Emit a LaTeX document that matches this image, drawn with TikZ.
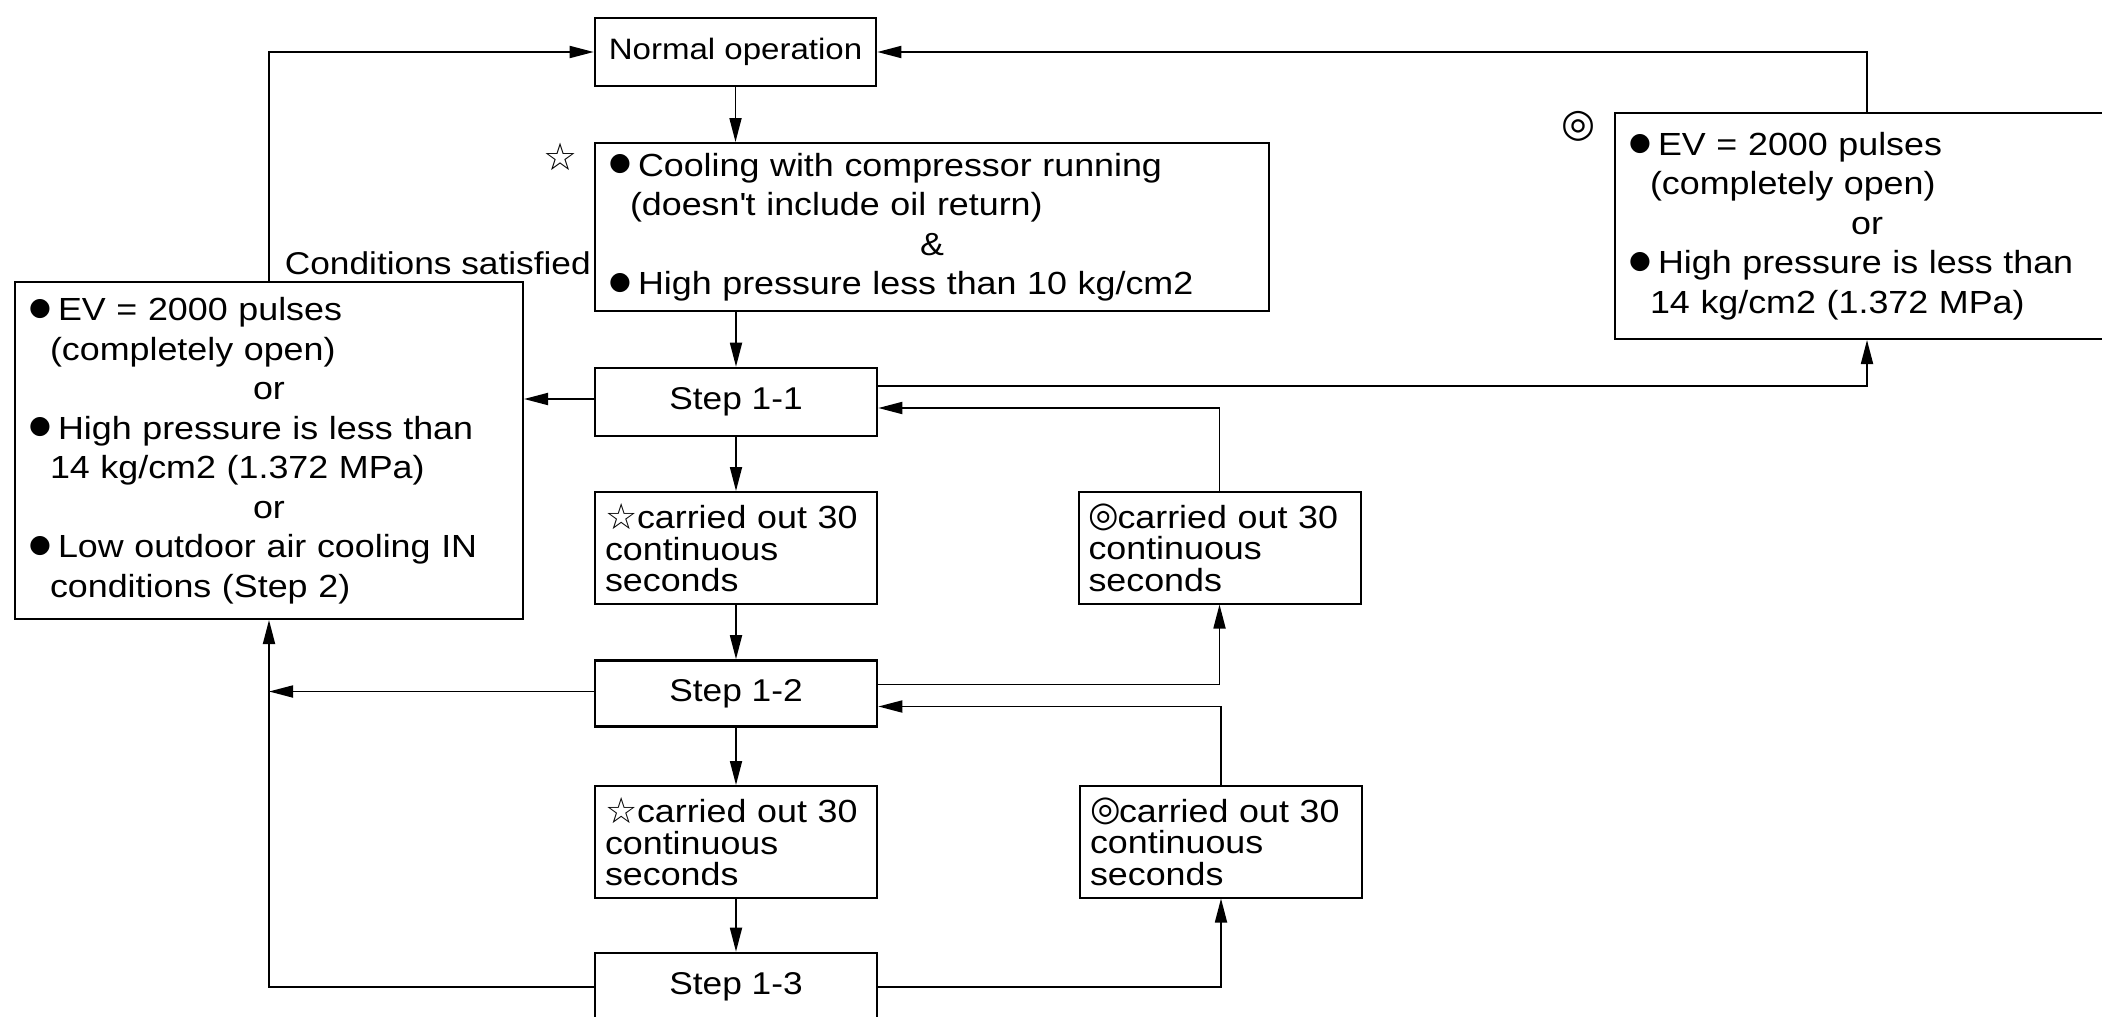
\documentclass[tikz,border=0pt]{standalone}
\usepackage{fontspec}
\setmainfont{Liberation Sans}[FakeStretch=1.12]
\newfontfamily\symfont{DejaVu Sans}
\usetikzlibrary{arrows.meta,calc}
\setlength{\lineskiplimit}{-100pt}
\newcommand\symat[3]{\raisebox{\dimexpr#2-(\height-\depth)/2\relax}{\symfont\fontsize{#1}{#1}\selectfont #3}}
\newcommand\bul{\makebox[29pt][l]{\symat{25pt}{11.5pt}{●}}}
\newcommand\ind{\hspace*{21pt}}
\newcommand\ctrline[1]{\makebox[\linewidth]{#1}}
\newcommand\wstar{\makebox[32pt][l]{\symat{36pt}{12pt}{☆}}}
\newcommand\dcirc{\makebox[29pt][l]{\symat{35pt}{11pt}{◎}}}
\tikzset{
  blk/.style={draw, line width=2.6pt, inner xsep=6pt, inner ysep=3pt,
    font=\fontsize{31.5}{39.5}\selectfont},
  txtbox/.style={draw, line width=2pt, inner xsep=14pt, inner ysep=3pt,
    align=left, font=\fontsize{32}{39.5}\selectfont},
  secbox/.style={draw, line width=2pt, inner xsep=10pt, inner ysep=3pt,
    align=left, text width=262pt, minimum height=112pt,
    font=\fontsize{32}{31.5}\selectfont},
  conn/.style={line width=1.8pt, -{Triangle[length=24pt,width=12pt]}},
}
\begin{document}
\begin{tikzpicture}[x=1pt,y=-1pt]
\useasboundingbox (0,0) rectangle (2102,1017);
\fill[white] (0,0) rectangle (2102,1017);

% main column
\node[blk, minimum width=281pt, minimum height=68pt, font=\fontsize{29.5}{39.5}\selectfont] (normal) at (735.5,52) {Normal operation};
\node[txtbox, text width=646pt, minimum height=168pt] (cool) at (932,227)
  {\bul Cooling with compressor running\\
   \ind(doesn\textquotesingle t include oil return)\\
   \ctrline{\&}\\
   \bul High pressure less than 10 kg/cm2};
\node[blk, minimum width=282pt, minimum height=68pt] (step11) at (736,402) {Step 1-1};
\node[secbox] (star1) at (736,548) {\wstar carried out 30\\continuous\\seconds};
\node[blk, minimum width=282pt, minimum height=66pt] (step12) at (736,693.5) {Step 1-2};
\node[secbox] (star2) at (736,842) {\wstar carried out 30\\continuous\\seconds};
\node[blk, minimum width=282pt, minimum height=68pt] (step13) at (736,987) {Step 1-3};

% right column of 30-second boxes
\node[secbox] (circ1) at (1219.5,547.5) {\dcirc carried out 30\\continuous\\seconds};
\node[secbox] (circ2) at (1221,841.5) {\dcirc carried out 30\\continuous\\seconds};

% left condition box
\node[txtbox, text width=480pt, minimum height=337pt] (leftbox) at (269,450.5)
  {\bul EV = 2000 pulses\\
   \ind(completely open)\\
   \ctrline{or}\\
   \bul High pressure is less than\\
   \ind 14 kg/cm2 (1.372 MPa)\\
   \ctrline{or}\\
   \bul Low outdoor air cooling IN\\
   \ind conditions (Step 2)};

% right condition box
\node[txtbox, text width=476pt, minimum height=226pt] (rightbox) at (1867,226)
  {\bul EV = 2000 pulses\\
   \ind(completely open)\\
   \ctrline{or}\\
   \bul High pressure is less than\\
   \ind 14 kg/cm2 (1.372 MPa)};

% marks and labels
\node[font=\symfont\fontsize{38}{38}\selectfont, inner sep=0pt] (starmark) at (560.5,157) {☆};
\node[font=\symfont\fontsize{39}{39}\selectfont, inner sep=0pt] (circmark) at (1578,126) {◎};
\node[anchor=base east, inner sep=0pt, font=\fontsize{31.5}{39.5}\selectfont] (cond) at (591,274) {Conditions satisfied};

% main column connectors
\draw[conn] (normal.south) -- (normal.south |- cool.north);
\draw[conn] (cool.south -| step11.north) -- (step11.north);
\draw[conn] (step11.south) -- (star1.north);
\draw[conn] (star1.south) -- (step12.north);
\draw[conn] (step12.south) -- (star2.north);
\draw[conn] (star2.south) -- (step13.north);

% left side
\draw[conn] (leftbox.north) |- (normal.west);
\draw[conn] ([yshift=3pt]step11.west) -- ([yshift=3pt]step11.west -| leftbox.east);
\draw[conn] ([yshift=2pt]step12.west) -- ([yshift=2pt]step12.west -| leftbox.south);
\draw[conn] (step13.west) -| (leftbox.south);

% right side
\draw[conn] (rightbox.north) |- (normal.east);
\draw[conn] ([yshift=16pt]step11.east) -| (rightbox.south);
\draw[conn] (circ1.north) |- ([yshift=-6pt]step11.east);
\draw[conn] ([yshift=9pt]step12.east) -| (circ1.south);
\draw[conn] (circ2.north) |- ([yshift=-13pt]step12.east);
\draw[conn] (step13.east) -| (circ2.south);
\end{tikzpicture}
\end{document}
